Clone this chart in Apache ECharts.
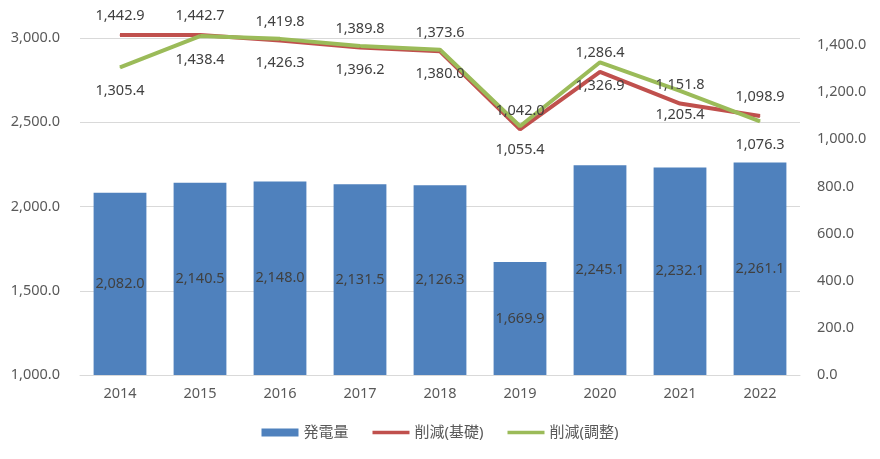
<!DOCTYPE html>
<html><head><meta charset="utf-8">
<script src="https://cdn.jsdelivr.net/npm/echarts@6/dist/echarts.min.js"></script>
<style>html,body{margin:0;padding:0;background:#fff}#c{width:880px;height:459px}</style>
</head><body><div id="c"></div>
<script>
const categories = ['2014','2015','2016','2017','2018','2019','2020','2021','2022'];
const generation = [2082.0,2140.5,2148.0,2131.5,2126.3,1669.9,2245.1,2232.1,2261.1];
const reductionBase = [1442.9,1442.7,1419.8,1389.8,1373.6,1042.0,1286.4,1151.8,1098.9];
const reductionAdj = [1305.4,1438.4,1426.3,1396.2,1380.0,1055.4,1326.9,1205.4,1076.3];
const leftTicks = [1000,1500,2000,2500,3000];
const rightTicks = [0,200,400,600,800,1000,1200,1400];

const fmt = v => Number(v).toLocaleString('en-US',{minimumFractionDigits:1,maximumFractionDigits:1});
const FONT = '"Noto Sans", "Noto Sans CJK JP", sans-serif';
const FS = 14.5;
const chart = echarts.init(document.getElementById('c'));
chart.setOption({
  animation:false,
  textStyle:{fontFamily:FONT},
  grid:{left:80,right:80,top:38,bottom:84},
  legend:{bottom:14,left:'center',itemGap:24,itemWidth:37,itemHeight:8,
    textStyle:{fontSize:15,color:'#595959',fontFamily:FONT},
    data:[{name:'発電量',icon:'rect'},{name:'削減(基礎)',icon:'path://M0,0h10v1h-10z'},{name:'削減(調整)',icon:'path://M0,0h10v1h-10z'}]},
  xAxis:{type:'category',data:categories,
    axisLine:{lineStyle:{color:'#d9d9d9'}},axisTick:{show:false},
    axisLabel:{color:'#595959',fontSize:FS,margin:12}},
  yAxis:[
    {type:'value',min:leftTicks[0],max:leftTicks[leftTicks.length-1],interval:500,
     axisLine:{show:false},axisTick:{show:false},
     splitLine:{lineStyle:{color:'#d9d9d9'}},
     axisLabel:{color:'#595959',fontSize:FS,margin:20,formatter:v=>fmt(v)}},
    {type:'value',min:rightTicks[0],max:1430,interval:200,
     axisLine:{show:false},axisTick:{show:false},splitLine:{show:false},
     axisLabel:{color:'#595959',fontSize:FS,margin:17,showMaxLabel:false,
       formatter:v=>rightTicks.includes(v)?fmt(v):''}}
  ],
  series:[
    {name:'発電量',type:'bar',data:generation,barCategoryGap:'34%',
     itemStyle:{color:'#4f81bd'},
     label:{show:true,position:'inside',color:'#404040',fontSize:FS,formatter:p=>fmt(p.value)}},
    {name:'削減(基礎)',type:'line',yAxisIndex:1,data:reductionBase,clip:false,
     symbol:'circle',symbolSize:1,showAllSymbol:true,
     lineStyle:{color:'#c0504d',width:4},itemStyle:{color:'#c0504d'},
     labelLayout:{hideOverlap:false},
     label:{show:true,position:'top',distance:11,color:'#404040',fontSize:FS,formatter:p=>fmt(p.value)}},
    {name:'削減(調整)',type:'line',yAxisIndex:1,data:reductionAdj,clip:false,
     symbol:'circle',symbolSize:1,showAllSymbol:true,
     lineStyle:{color:'#9bbb59',width:4},itemStyle:{color:'#9bbb59'},
     labelLayout:{hideOverlap:false},
     label:{show:true,position:'bottom',distance:16,color:'#404040',fontSize:FS,formatter:p=>fmt(p.value)}}
  ]
});
</script></body></html>
